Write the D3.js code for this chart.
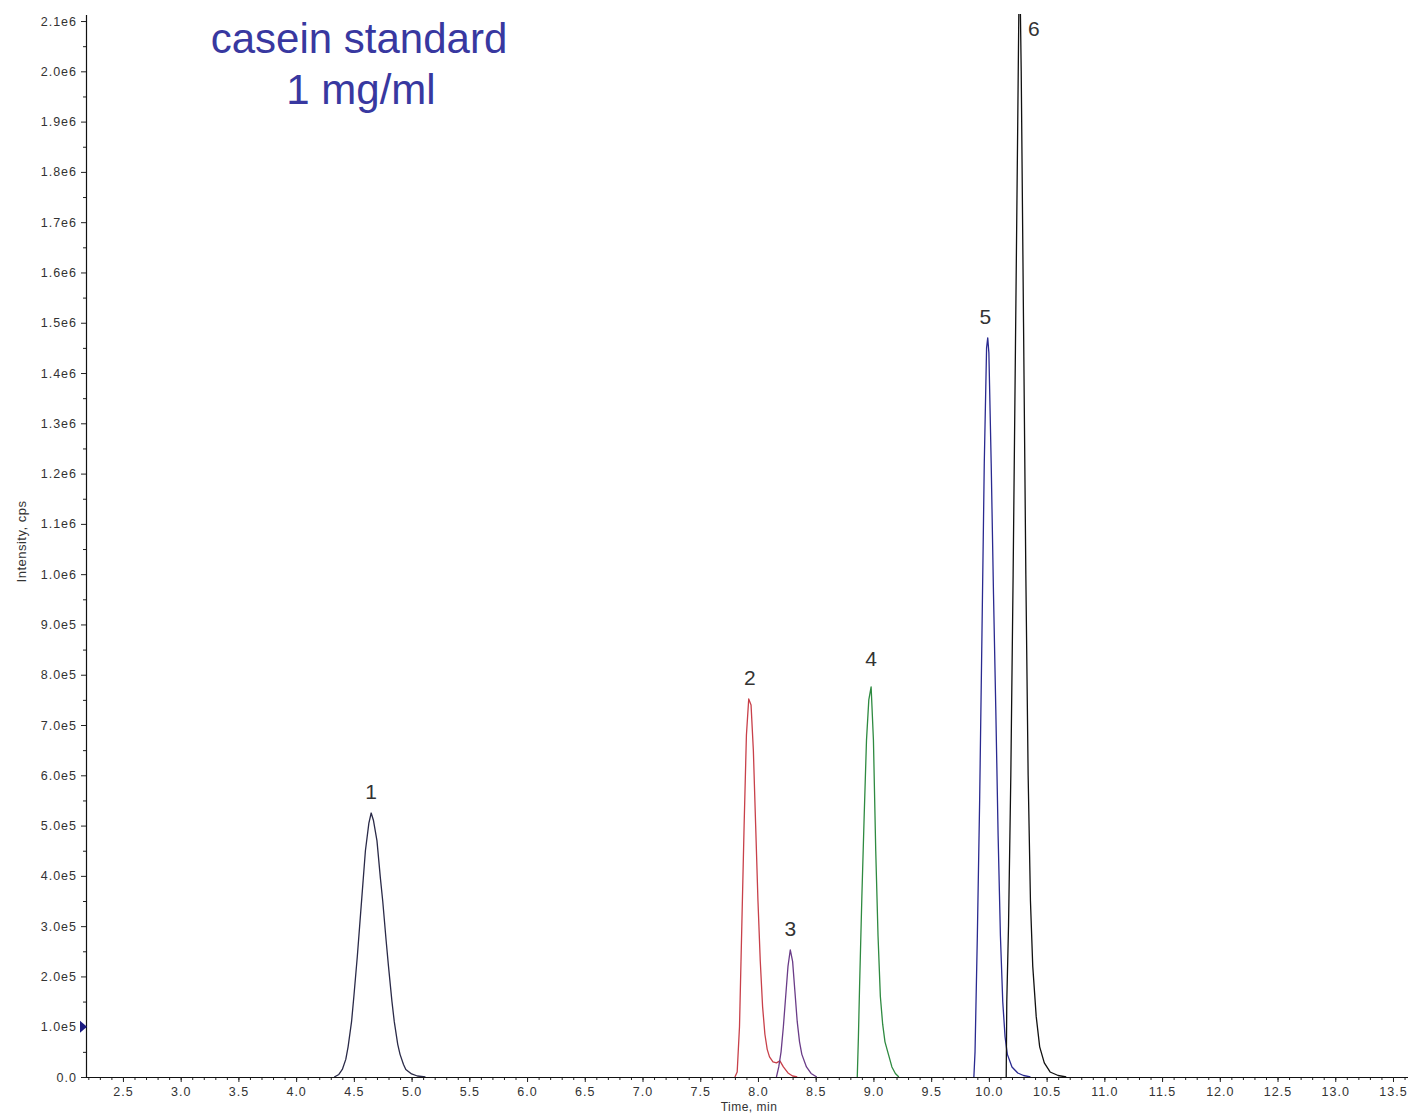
<!DOCTYPE html>
<html>
<head>
<meta charset="utf-8">
<script src="https://cdn.jsdelivr.net/npm/d3@7"></script>
<style>
  html, body { margin: 0; padding: 0; background: #fff; }
  svg { display: block; }
  text { font-family: "Liberation Sans", Arial, sans-serif; }
</style>
</head>
<body>
<svg id="chart" width="1410" height="1115"></svg>
<script>
// Extracted ion chromatograms, casein standard 1 mg/ml.
// Each trace: [time (min), intensity (cps)].
const trace1 = [
  [4.33, 0], [4.37, 0.05e5], [4.40, 0.15e5], [4.43, 0.35e5], [4.45, 0.6e5], [4.48, 1.1e5],
  [4.50, 1.6e5], [4.53, 2.4e5], [4.55, 3.0e5], [4.58, 3.9e5], [4.60, 4.5e5], [4.63, 5.05e5],
  [4.65, 5.25e5], [4.67, 5.1e5], [4.70, 4.7e5], [4.73, 3.95e5], [4.75, 3.5e5], [4.78, 2.7e5],
  [4.80, 2.2e5], [4.83, 1.5e5], [4.85, 1.1e5], [4.88, 0.65e5], [4.90, 0.45e5], [4.93, 0.25e5],
  [4.95, 0.15e5], [5.00, 0.06e5], [5.05, 0.02e5], [5.12, 0]
];
const trace2 = [
  [7.80, 0], [7.82, 0.1e5], [7.84, 1.0e5], [7.86, 3.0e5], [7.88, 5.0e5], [7.90, 6.8e5],
  [7.92, 7.52e5], [7.94, 7.4e5], [7.96, 6.5e5], [7.98, 5.0e5], [8.00, 3.5e5], [8.02, 2.3e5],
  [8.04, 1.4e5], [8.06, 0.85e5], [8.08, 0.55e5], [8.10, 0.4e5], [8.13, 0.3e5], [8.16, 0.28e5],
  [8.19, 0.32e5], [8.22, 0.2e5], [8.26, 0.08e5], [8.30, 0.02e5], [8.34, 0]
];
const trace3 = [
  [8.16, 0], [8.18, 0.2e5], [8.20, 0.5e5], [8.22, 1.0e5], [8.24, 1.6e5], [8.26, 2.2e5],
  [8.28, 2.53e5], [8.30, 2.3e5], [8.32, 1.7e5], [8.34, 1.1e5], [8.36, 0.7e5], [8.38, 0.45e5],
  [8.42, 0.2e5], [8.46, 0.07e5], [8.51, 0]
];
const trace4 = [
  [8.86, 0], [8.87, 0.8e5], [8.88, 1.8e5], [8.90, 3.6e5], [8.92, 5.2e5], [8.94, 6.7e5],
  [8.96, 7.5e5], [8.98, 7.76e5], [9.00, 6.7e5], [9.02, 4.5e5], [9.04, 2.8e5], [9.06, 1.6e5],
  [9.08, 1.05e5], [9.10, 0.7e5], [9.13, 0.45e5], [9.16, 0.2e5], [9.19, 0.07e5], [9.22, 0]
];
const trace5 = [
  [9.87, 0], [9.88, 0.5e5], [9.90, 2.8e5], [9.92, 5.5e5], [9.94, 8.8e5], [9.96, 12.2e5],
  [9.98, 14.5e5], [9.99, 14.7e5], [10.00, 14.4e5], [10.02, 12.2e5], [10.04, 9.6e5],
  [10.06, 7.3e5], [10.08, 4.8e5], [10.10, 2.8e5], [10.12, 1.5e5], [10.14, 0.8e5],
  [10.16, 0.45e5], [10.20, 0.2e5], [10.25, 0.08e5], [10.30, 0.03e5], [10.36, 0]
];
const trace6 = [
  [10.15, 0], [10.155, 1.5e5], [10.17, 3.0e5], [10.19, 6.0e5], [10.21, 10.0e5], [10.23, 14.5e5],
  [10.25, 19.0e5], [10.265, 22.5e5], [10.28, 20.0e5], [10.30, 15.0e5], [10.32, 10.0e5],
  [10.34, 6.0e5], [10.36, 3.5e5], [10.38, 2.2e5], [10.41, 1.2e5], [10.44, 0.6e5],
  [10.48, 0.28e5], [10.53, 0.1e5], [10.60, 0.03e5], [10.67, 0]
];

const traces = [trace1, trace2, trace3, trace4, trace5, trace6];
const traceColors = ["#2a2a48", "#c8404a", "#6a3c88", "#2e8a40", "#2a2a90", "#111111"];

// Peak numbers and the point each one sits above [time, intensity]
const peakLabels = ["1", "2", "3", "4", "5", "6"];
const peakLabelPos = [[4.65, 5.25e5], [7.93, 7.52e5], [8.28, 2.53e5], [8.98, 7.9e5], [9.97, 14.7e5], [10.39, 20.42e5]];

const xTickValues = [2.5, 3.0, 3.5, 4.0, 4.5, 5.0, 5.5, 6.0, 6.5, 7.0, 7.5, 8.0, 8.5, 9.0,
                     9.5, 10.0, 10.5, 11.0, 11.5, 12.0, 12.5, 13.0, 13.5];
const xTickLabels = ["2.5", "3.0", "3.5", "4.0", "4.5", "5.0", "5.5", "6.0", "6.5", "7.0", "7.5",
                     "8.0", "8.5", "9.0", "9.5", "10.0", "10.5", "11.0", "11.5", "12.0", "12.5",
                     "13.0", "13.5"];
const yTickValues = [0, 1e5, 2e5, 3e5, 4e5, 5e5, 6e5, 7e5, 8e5, 9e5, 1.0e6, 1.1e6, 1.2e6,
                     1.3e6, 1.4e6, 1.5e6, 1.6e6, 1.7e6, 1.8e6, 1.9e6, 2.0e6, 2.1e6];
const yTickLabels = ["0.0", "1.0e5", "2.0e5", "3.0e5", "4.0e5", "5.0e5", "6.0e5", "7.0e5",
                     "8.0e5", "9.0e5", "1.0e6", "1.1e6", "1.2e6", "1.3e6", "1.4e6", "1.5e6",
                     "1.6e6", "1.7e6", "1.8e6", "1.9e6", "2.0e6", "2.1e6"];

const titleLines = ["casein standard", "1 mg/ml"];

// Layout
const plot = { left: 86, right: 1408, top: 14, bottom: 1077 };
const svg = d3.select("#chart");

const x = d3.scaleLinear().domain([2.18, 13.63]).range([plot.left, plot.right]);
const y = d3.scaleLinear().domain([0, 2.114e6]).range([plot.bottom, plot.top]);

svg.append("defs").append("clipPath").attr("id", "plotClip")
  .append("rect")
  .attr("x", plot.left).attr("y", plot.top)
  .attr("width", plot.right - plot.left).attr("height", plot.bottom - plot.top);

// Minor ticks
const xMinor = d3.range(22, 137).map(v => v / 10).filter(v => v >= 2.2 && v <= 13.6);
svg.append("g")
  .attr("transform", `translate(0,${plot.bottom})`)
  .call(d3.axisBottom(x).tickValues(xMinor).tickSize(3).tickFormat(""))
  .call(g => g.select(".domain").remove())
  .selectAll("line").attr("stroke", "#222");

const yMinor = d3.range(0, 21).map(i => i * 1e5 + 0.5e5);
svg.append("g")
  .attr("transform", `translate(${plot.left},0)`)
  .call(d3.axisLeft(y).tickValues(yMinor).tickSize(3).tickFormat(""))
  .call(g => g.select(".domain").remove())
  .selectAll("line").attr("stroke", "#222");

// Major axes
const xAxis = svg.append("g")
  .attr("transform", `translate(0,${plot.bottom})`)
  .call(d3.axisBottom(x).tickValues(xTickValues).tickSize(5).tickPadding(5)
    .tickFormat((d, i) => xTickLabels[i]).tickSizeOuter(0));
xAxis.select(".domain").attr("d", `M${plot.left},0.5H${plot.right}`).attr("stroke", "#111").attr("stroke-width", 1.2);
xAxis.selectAll("line").attr("stroke", "#222");
xAxis.selectAll("text")
  .attr("font-size", 12.5).attr("fill", "#333").style("letter-spacing", "1px")
  .attr("font-family", "'Liberation Sans', Arial, sans-serif");

const yAxis = svg.append("g")
  .attr("transform", `translate(${plot.left},0)`)
  .call(d3.axisLeft(y).tickValues(yTickValues).tickSize(5).tickPadding(4)
    .tickFormat((d, i) => yTickLabels[i]).tickSizeOuter(0));
yAxis.select(".domain").attr("d", `M0.5,${plot.bottom}V${plot.top + 1}`).attr("stroke", "#111").attr("stroke-width", 1.2);
yAxis.selectAll("line").attr("stroke", "#222");
yAxis.selectAll("text")
  .attr("font-size", 12.5).attr("fill", "#333").style("letter-spacing", "1px")
  .attr("font-family", "'Liberation Sans', Arial, sans-serif");

// Axis titles
svg.append("text")
  .attr("x", 749).attr("y", 1111)
  .attr("text-anchor", "middle").attr("font-size", 12).attr("fill", "#333")
  .style("letter-spacing", "0.5px")
  .text("Time, min");

svg.append("text")
  .attr("transform", `translate(26,${(plot.top + plot.bottom) / 2 - 4}) rotate(-90)`)
  .attr("text-anchor", "middle").attr("font-size", 13).attr("fill", "#333")
  .style("letter-spacing", "0.5px")
  .text("Intensity, cps");

// Chromatogram traces
const line = d3.line().x(d => x(d[0])).y(d => y(d[1]));
svg.append("g").attr("clip-path", "url(#plotClip)")
  .selectAll("path")
  .data(traces)
  .join("path")
  .attr("d", line)
  .attr("fill", "none")
  .attr("stroke", (d, i) => traceColors[i])
  .attr("stroke-width", 1.3)
  .attr("stroke-linejoin", "round");

// Peak numbers
svg.append("g")
  .selectAll("text")
  .data(peakLabelPos)
  .join("text")
  .attr("x", d => x(d[0]))
  .attr("y", d => y(d[1]) - 14)
  .attr("text-anchor", "middle")
  .attr("font-size", 21)
  .attr("fill", "#333")
  .text((d, i) => peakLabels[i]);

// Threshold marker on the intensity axis
const my = y(1e5);
svg.append("path")
  .attr("d", `M${plot.left - 6},${my - 6}L${plot.left + 1},${my}L${plot.left - 6},${my + 6}Z`)
  .attr("fill", "#1a1a80");

// Title
svg.append("g")
  .selectAll("text")
  .data(titleLines)
  .join("text")
  .attr("x", (d, i) => i === 0 ? 359 : 361)
  .attr("y", (d, i) => i === 0 ? 53 : 104)
  .attr("text-anchor", "middle")
  .attr("font-size", 42)
  .attr("fill", "#3838a0")
  .text(d => d);
</script>
</body>
</html>
